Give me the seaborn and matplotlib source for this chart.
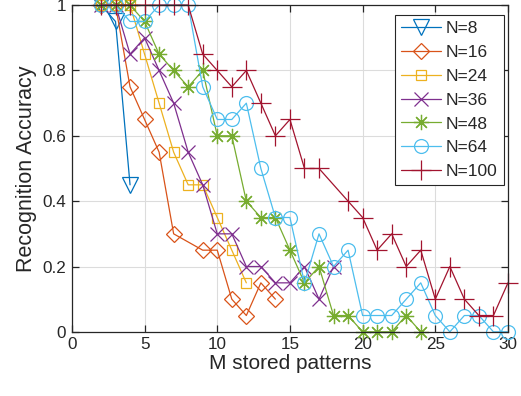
import matplotlib
matplotlib.use("Agg")
import matplotlib.pyplot as plt
import seaborn as sns
import pandas as pd

# Recognition accuracy vs. number of stored patterns, per network size N
x_n8 = [2, 3, 4]
y_n8 = [1.0, 0.95, 0.45]

x_n16 = [2, 3, 4, 5, 6, 7, 9, 10, 11, 12, 13, 14]
y_n16 = [1.0, 1.0, 0.75, 0.65, 0.55, 0.30, 0.25, 0.25, 0.10, 0.05, 0.15, 0.10]

x_n24 = [2, 3, 4, 5, 6, 7, 8, 9, 10, 11, 12]
y_n24 = [1.0, 1.0, 1.0, 0.85, 0.70, 0.55, 0.45, 0.45, 0.35, 0.25, 0.15]

x_n36 = [2, 3, 4, 5, 6, 7, 8, 9, 10, 11, 12, 13, 14, 15, 16, 17, 18]
y_n36 = [1.0, 1.0, 0.85, 0.90, 0.80, 0.70, 0.55, 0.45, 0.30, 0.30, 0.20, 0.20,
         0.15, 0.15, 0.20, 0.10, 0.20]

x_n48 = list(range(2, 25))
y_n48 = [1.0, 1.0, 1.0, 0.95, 0.85, 0.80, 0.75, 0.80, 0.60, 0.60, 0.40, 0.35,
         0.35, 0.25, 0.15, 0.20, 0.05, 0.05, 0.0, 0.0, 0.0, 0.05, 0.0]

x_n64 = list(range(2, 31))
y_n64 = [1.0, 1.0, 0.95, 0.95, 1.0, 1.0, 1.0, 0.75, 0.65, 0.65, 0.70, 0.50,
         0.35, 0.35, 0.15, 0.30, 0.20, 0.25, 0.05, 0.05, 0.05, 0.10, 0.15,
         0.05, 0.0, 0.05, 0.05, 0.0, 0.0]

x_n100 = list(range(2, 18)) + list(range(19, 31))
y_n100 = [1.0, 1.0, 1.0, 1.0, 1.0, 1.0, 1.0, 0.85, 0.80, 0.75, 0.80, 0.70,
          0.60, 0.65, 0.50, 0.50,
          0.40, 0.35, 0.25, 0.30, 0.20, 0.25, 0.10, 0.20, 0.10, 0.05, 0.05, 0.15]

labels = ["N=8", "N=16", "N=24", "N=36", "N=48", "N=64", "N=100"]
xs = [x_n8, x_n16, x_n24, x_n36, x_n48, x_n64, x_n100]
ys = [y_n8, y_n16, y_n24, y_n36, y_n48, y_n64, y_n100]

colors = ["#0072BD", "#D95319", "#EDB120", "#7E2F8E", "#77AC30", "#4DBEEE", "#A2142F"]
markers = ["v", "D", "s", "x", (8, 2, 0), "o", "+"]
msizes = [11, 8, 7.5, 10, 11, 10, 14]

sns.set_theme(style="white")
plt.rcParams["font.family"] = ["Liberation Sans", "DejaVu Sans"]

fig = plt.figure(figsize=(5.21, 3.96), dpi=100)
ax = fig.add_axes([0.138, 0.162, 0.837, 0.825])

for lab, xv, yv, c, m, ms in zip(labels, xs, ys, colors, markers, msizes):
    df = pd.DataFrame({"M": xv, "acc": yv})
    sns.lineplot(data=df, x="M", y="acc", ax=ax, color=c, marker=m,
                 markersize=ms, markerfacecolor="none", markeredgecolor=c,
                 markeredgewidth=0.9, linewidth=0.9, label=lab, clip_on=False)

ax.set_xlim(0, 30)
ax.set_ylim(0, 1)
ax.set_xticks(range(0, 31, 5))
ax.set_yticks([0, 0.2, 0.4, 0.6, 0.8, 1.0])
ax.set_yticklabels(["0", "0.2", "0.4", "0.6", "0.8", "1"])
ax.grid(True, color="#dcdcdc", linewidth=0.8)
ax.set_axisbelow(True)
for s in ax.spines.values():
    s.set_color("#262626")
    s.set_linewidth(0.9)
ax.tick_params(direction="in", length=5, width=0.9, colors="#262626",
               labelsize=12.3, top=True, right=True, bottom=True, left=True,
               pad=4)
ax.set_xlabel("M stored patterns", fontsize=15, color="#262626", labelpad=1)
ax.set_ylabel("Recognition Accuracy", fontsize=15.5, color="#262626", labelpad=4)

leg = ax.legend(loc="upper right", bbox_to_anchor=(0.99, 0.97), fontsize=12.5,
                frameon=True, fancybox=False, framealpha=1,
                edgecolor="#262626", handlelength=2.3, handletextpad=0.3,
                labelspacing=0.5, borderpad=0.35, borderaxespad=0.0)
leg.get_frame().set_linewidth(0.8)
leg.set_zorder(5)

fig.savefig("out.png", dpi=100)
